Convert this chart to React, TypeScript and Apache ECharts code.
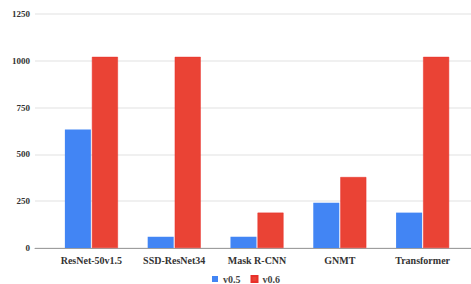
import React, { useEffect, useRef } from "react";
import * as echarts from "echarts";

const categories = ["ResNet-50v1.5", "SSD-ResNet34", "Mask R-CNN", "GNMT", "Transformer"];
const v05 = [633, 60, 60, 242, 189];
const v06 = [1021, 1021, 189, 379, 1021];
const yTicks = [0, 250, 500, 750, 1000, 1250];

const FONT = "'Liberation Serif', 'Times New Roman', serif";

export default function App() {
  const ref = useRef<HTMLDivElement>(null);
  useEffect(() => {
    if (!ref.current) return;
    const chart = echarts.init(ref.current, undefined, { renderer: "svg" });
    const top = 14;
    const bottom = 284 - 248;
    chart.setOption({
      animation: false,
      backgroundColor: "#fff",
      legend: {
        show: true,
        bottom: 0,
        left: 212,
        padding: 0,
        itemWidth: 6,
        itemHeight: 6,
        itemGap: 10,
        icon: "rect",
        textStyle: { fontFamily: FONT, fontWeight: "bold", fontSize: 10, color: "#444" },
      },
      grid: [
        { left: 35, right: 0, top, bottom },
        { left: 50, right: 7, top, bottom },
      ],
      xAxis: [
        {
          gridIndex: 0,
          type: "value",
          min: 0,
          max: 1,
          show: true,
          axisLabel: { show: false },
          axisTick: { show: false },
          splitLine: { show: false },
          axisLine: { show: true, lineStyle: { color: "#9e9e9e", width: 1 } },
        },
        {
          gridIndex: 1,
          type: "category",
          data: categories,
          axisLine: { show: false },
          axisTick: { show: false },
          axisLabel: {
            margin: 7,
            interval: 0,
            fontFamily: FONT,
            fontWeight: "bold",
            fontSize: 10,
            color: "#333",
          },
        },
      ],
      yAxis: [
        {
          gridIndex: 0,
          type: "value",
          min: yTicks[0],
          max: yTicks[yTicks.length - 1],
          interval: 250,
          axisLine: { show: false },
          axisTick: { show: false },
          axisLabel: {
            margin: 5,
            formatter: (v: number) => String(v),
            fontFamily: FONT,
            fontWeight: "bold",
            fontSize: 9,
            color: "#333",
          },
          splitLine: { lineStyle: { color: "#ebebeb", width: 1.5 } },
        },
        {
          gridIndex: 1,
          type: "value",
          min: yTicks[0],
          max: yTicks[yTicks.length - 1],
          show: false,
          splitLine: { show: false },
        },
      ],
      series: [
        {
          name: "v0.5",
          type: "bar",
          xAxisIndex: 1,
          yAxisIndex: 1,
          data: v05,
          barWidth: 26,
          barGap: "4%",
          itemStyle: { color: "#4285F4" },
        },
        {
          name: "v0.6",
          type: "bar",
          xAxisIndex: 1,
          yAxisIndex: 1,
          data: v06,
          barWidth: 26,
          barGap: "4%",
          itemStyle: { color: "#EA4335", borderColor: "#e8302a", borderWidth: 0.5 },
        },
      ],
    });
    return () => chart.dispose();
  }, []);
  return (
    <div
      ref={ref}
      style={{ position: "fixed", left: 0, top: 0, width: 471, height: 284 }}
    />
  );
}
